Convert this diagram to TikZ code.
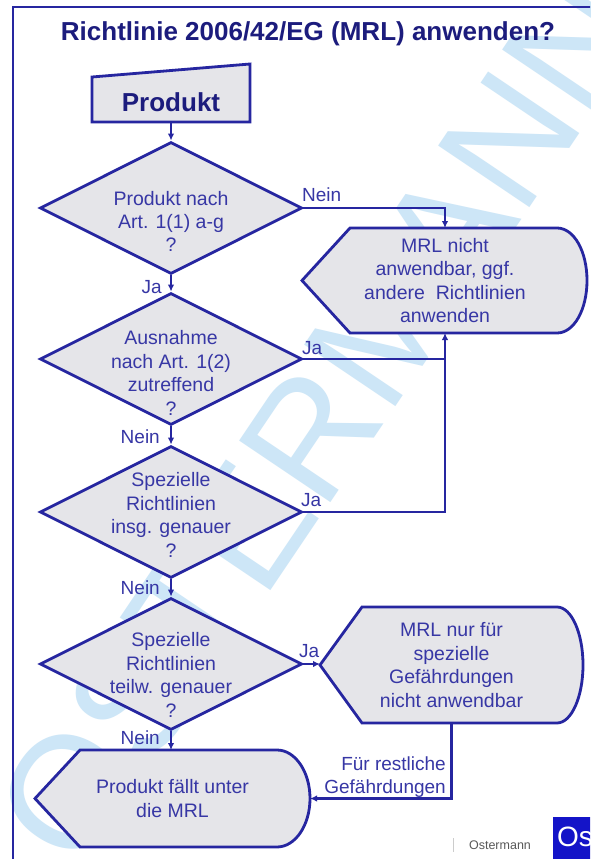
\documentclass[tikz,border=0pt]{standalone}
\usepackage{fontspec}
\setmainfont{Liberation Sans}
\usetikzlibrary{shapes.geometric,arrows.meta}
\definecolor{navy}{RGB}{38,38,160}
\definecolor{titleblue}{RGB}{28,28,125}
\definecolor{txtblue}{RGB}{55,55,165}
\definecolor{boxfill}{RGB}{229,229,233}
\definecolor{wmblue}{RGB}{205,230,247}
\definecolor{logoblue}{RGB}{20,20,200}
\begin{document}
\begin{tikzpicture}[x=1pt,y=-1pt,
  line/.style={draw=navy,line width=2.5pt},
  arr/.style={line,-{Latex[length=7pt,width=6.5pt]}},
  dia/.style={diamond,draw=navy,fill=boxfill,line width=2.8pt,minimum width=262pt,minimum height=132pt,inner sep=0pt},
  shapebox/.style={draw=navy,fill=boxfill,line width=2.8pt,line join=miter},
  anchorbox/.style={inner sep=0pt,outer sep=0pt},
  qtext/.style={text=txtblue,font=\fontsize{19.5}{23.4}\selectfont,align=center,inner sep=0pt},
  lbl/.style={text=txtblue,font=\fontsize{19}{23}\selectfont,inner sep=0pt},
]
\useasboundingbox (0,0) rectangle (590,859);
\begin{scope}
\clip (0,0) rectangle (590,859);
\fill[white] (0,0) rectangle (590,859);
% watermark
\node[text=wmblue,font=\fontsize{160}{160}\selectfont,rotate=56] (wm) at (320,420) {OSTERMANN};
% frame
\draw[draw=navy,line width=2.7pt] (13,859) -- (13,7) -- (592,7);
% title
\node[text=titleblue,font=\bfseries\fontsize{26}{30}\selectfont] (title) at (308,34) {Richtlinie 2006/42/EG (MRL) anwenden?};
% Produkt box
\filldraw[shapebox] (92,77) -- (250,64) -- (250,122) -- (92,122) -- cycle;
\node[anchorbox,minimum width=158pt,minimum height=40pt,text=titleblue,font=\bfseries\fontsize{26}{30}\selectfont] (p) at (171,102) {Produkt};
% diamonds
\node[dia] (d1) at (171,208) {};
\node[qtext] (t1) at (171,221.5) {Produkt nach\\Art. 1(1) a-g\\?};
\node[dia] (d2) at (171,359) {};
\node[qtext] (t2) at (171,373) {Ausnahme\\nach Art. 1(2)\\zutreffend\\?};
\node[dia] (d3) at (171,512) {};
\node[qtext] (t3) at (171,515) {Spezielle\\Richtlinien\\insg. genauer\\?};
\node[dia] (d4) at (171,664) {};
\node[qtext] (t4) at (171,675) {Spezielle\\Richtlinien\\teilw. genauer\\?};
% display boxes
\filldraw[shapebox] (302,280.5) -- (350,228) -- (557,228) .. controls (574.1,228) and (587,251.5) .. (587,280.5) .. controls (587,309.5) and (574.1,333) .. (557,333) -- (350,333) -- cycle;
\node[anchorbox,qtext,minimum width=286pt,minimum height=105pt] (b1) at (445,280.5) {MRL nicht\\anwendbar, ggf.\\andere~~Richtlinien\\anwenden};
\filldraw[shapebox] (320,665) -- (362,607) -- (557,607) .. controls (571.4,607) and (583,633) .. (583,665) .. controls (583,697) and (571.4,723) .. (557,723) -- (362,723) -- cycle;
\node[anchorbox,qtext,minimum width=263pt,minimum height=116pt] (b2) at (451.5,665) {MRL nur für\\spezielle\\Gefährdungen\\nicht anwendbar};
\filldraw[shapebox] (35,798.5) -- (80,750) -- (277,750) .. controls (295.2,750) and (310,771.7) .. (310,798.5) .. controls (310,825.3) and (295.2,847) .. (277,847) -- (80,847) -- cycle;
\node[anchorbox,qtext,minimum width=275pt,minimum height=97pt] (f) at (172.5,798.5) {Produkt fällt unter\\die MRL};
% connectors
\draw[arr] (p.south) -- (d1.north);
\draw[arr] (d1.south) -- (d2.north);
\draw[arr] (d2.south) -- (d3.north);
\draw[arr] (d3.south) -- (d4.north);
\draw[arr] (d4.south) -- (d4.south |- f.north);
\draw[arr] (d1.east) -| (b1.north);
\draw[line] (d2.east) -- (d2.east -| b1.south);
\draw[arr] (d3.east) -| (b1.south);
\draw[arr] (d4.east) -- (d4.east -| b2.west);
\draw[arr] (b2.south) |- (f.east);
% labels
\node[lbl,anchor=west] (ln1) at (302,195) {Nein};
\node[lbl,anchor=east] (lj1) at (162,287) {Ja};
\node[lbl,anchor=west] (lj2) at (302,348) {Ja};
\node[lbl,anchor=east] (ln2) at (160,437) {Nein};
\node[lbl,anchor=west] (lj3) at (301,500) {Ja};
\node[lbl,anchor=east] (ln3) at (160,588) {Nein};
\node[lbl,anchor=west] (lj4) at (299,651) {Ja};
\node[lbl,anchor=east] (ln4) at (160,738) {Nein};
\node[lbl,anchor=east,align=right] (lr) at (446,777) {Für restliche\\Gefährdungen};
% footer
\draw[draw=gray!40,line width=1pt] (453,838) -- (453,852);
\node[text=gray!70!black,font=\fontsize{12.5}{14}\selectfont,inner sep=0pt] (ost) at (500,845) {Ostermann};
\fill[logoblue] (553,817) rectangle (592,859);
\node[text=white,font=\fontsize{28}{30}\selectfont,anchor=west,inner sep=0pt] (logo) at (557,837) {Os};
\end{scope}
\end{tikzpicture}
\end{document}
